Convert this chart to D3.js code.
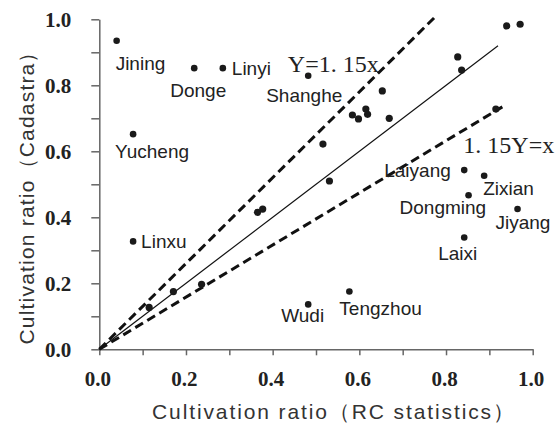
<!DOCTYPE html>
<html>
<head>
<meta charset="utf-8">
<script src="https://cdn.jsdelivr.net/npm/d3@7"></script>
<style>
  body { margin: 0; background: #fff; }
  .tick text { font-family: "Liberation Serif", serif; font-weight: bold; font-size: 21px; fill: #222; }
  .axis path, .axis line { stroke: #666; stroke-width: 1.5; }
  .county { font-family: "Liberation Sans", Arial, sans-serif; font-size: 19px; fill: #222; }
  .eq { font-family: "Liberation Serif", serif; font-size: 24px; fill: #222; }
  .title { font-family: "Liberation Sans", Arial, sans-serif; font-size: 21px; fill: #333; }
</style>
</head>
<body>
<div id="chart"></div>
<script>
// labelled counties
const names = ['Jining', 'Donge', 'Linyi', 'Yucheng', 'Shanghe', 'Linxu', 'Laiyang',
  'Zixian', 'Dongming', 'Jiyang', 'Laixi', 'Wudi', 'Tengzhou'];
const rcRatio = [0.040, 0.219, 0.285, 0.078, 0.482, 0.078, 0.842,
  0.888, 0.852, 0.965, 0.842, 0.482, 0.577];
const cadastraRatio = [0.935, 0.852, 0.852, 0.652, 0.829, 0.327, 0.543,
  0.526, 0.467, 0.425, 0.339, 0.136, 0.175];

// unlabelled counties
const otherRc = [0.653, 0.584, 0.598, 0.615, 0.619, 0.669, 0.516, 0.531, 0.940,
  0.971, 0.827, 0.836, 0.915, 0.115, 0.171, 0.236, 0.365, 0.377];
const otherCadastra = [0.783, 0.710, 0.698, 0.728, 0.712, 0.700, 0.622, 0.510, 0.980,
  0.985, 0.886, 0.846, 0.728, 0.127, 0.175, 0.197, 0.415, 0.425];

// reference lines: slope and end x
const refSlopes = [1, 1.3, 0.79];
const refEnds = [0.92, 0.775, 0.93];

const tickValues = [0, 0.1, 0.2, 0.3, 0.4, 0.5, 0.6, 0.7, 0.8, 0.9, 1.0];

const width = 556;
const height = 424;
const margin = { top: 19.3, right: 23.3, bottom: 74.7, left: 99.3 };
const plotW = width - margin.left - margin.right;
const plotH = height - margin.top - margin.bottom;

// label placement relative to the dot (pixels)
const labelOffset = {
  Jining: [-1, 29], Donge: [-24, 29], Linyi: [9, 7], Yucheng: [-18, 24],
  Shanghe: [-42, 26], Linxu: [8, 7], Laiyang: [-80, 7], Zixian: [-1, 19],
  Dongming: [-69, 19], Jiyang: [-22, 20], Laixi: [-26, 23], Wudi: [-27, 18],
  Tengzhou: [-10, 23],
};

const svg = d3.select('#chart')
  .append('svg')
  .attr('width', width)
  .attr('height', height);

const g = svg.append('g')
  .attr('transform', `translate(${margin.left},${margin.top})`);

const x = d3.scaleLinear().domain([0, 1]).range([0, plotW]);
const y = d3.scaleLinear().domain([0, 1]).range([plotH, 0]);

const fmt = d => (Math.round(d * 10) % 2 === 0 ? d3.format('.1f')(d) : '');

g.append('g')
  .attr('class', 'axis')
  .attr('transform', `translate(0,${plotH})`)
  .call(d3.axisBottom(x).tickValues(tickValues).tickFormat(fmt)
    .tickSize(6).tickSizeOuter(0).tickPadding(16))
  .selectAll('text').attr('dx', -2);

g.append('g')
  .attr('class', 'axis')
  .call(d3.axisLeft(y).tickValues(tickValues).tickFormat(fmt)
    .tickSize(8).tickSizeOuter(0).tickPadding(20));

// reference lines
const line = d3.line().x(d => x(d[0])).y(d => y(d[1]));
refSlopes.forEach((s, i) => {
  g.append('path')
    .datum([[0, 0], [refEnds[i], refEnds[i] * s]])
    .attr('d', line)
    .attr('fill', 'none')
    .attr('stroke', '#111')
    .attr('stroke-width', i === 0 ? 1.2 : 3)
    .attr('stroke-dasharray', i === 0 ? null : '9,5');
});

g.append('text').attr('class', 'eq')
  .attr('x', x(0.435)).attr('y', y(0.84))
  .text('Y=1. 15x');
g.append('text').attr('class', 'eq')
  .attr('x', x(0.84)).attr('y', y(0.595))
  .text('1. 15Y=x');

// dots
const others = otherRc.map((v, i) => [v, otherCadastra[i]]);
g.selectAll('circle.other')
  .data(others)
  .enter().append('circle')
  .attr('class', 'other')
  .attr('cx', d => x(d[0]))
  .attr('cy', d => y(d[1]))
  .attr('r', 3.6)
  .attr('fill', '#1a1a1a');

const counties = names.map((n, i) => ({ name: n, rc: rcRatio[i], cad: cadastraRatio[i] }));
g.selectAll('circle.county-dot')
  .data(counties)
  .enter().append('circle')
  .attr('class', 'county-dot')
  .attr('cx', d => x(d.rc))
  .attr('cy', d => y(d.cad))
  .attr('r', 3.3)
  .attr('fill', '#1a1a1a');

g.selectAll('text.county')
  .data(counties)
  .enter().append('text')
  .attr('class', 'county')
  .attr('x', d => x(d.rc) + labelOffset[d.name][0])
  .attr('y', d => y(d.cad) + labelOffset[d.name][1])
  .text(d => d.name);

// axis titles
svg.append('text')
  .attr('class', 'title')
  .attr('x', 333)
  .attr('y', 419)
  .attr('text-anchor', 'middle')
  .attr('textLength', 362)
  .attr('lengthAdjust', 'spacing')
  .text('Cultivation ratio（RC statistics）');

svg.append('text')
  .attr('class', 'title')
  .attr('transform', 'translate(34,193) rotate(-90)')
  .attr('text-anchor', 'middle')
  .attr('textLength', 303)
  .attr('lengthAdjust', 'spacing')
  .text('Cultivation ratio（Cadastra）');
</script>
</body>
</html>
